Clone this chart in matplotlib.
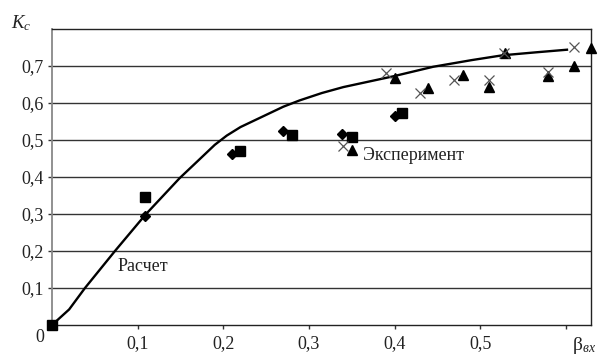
import matplotlib
matplotlib.use("Agg")
import matplotlib.pyplot as plt

plt.rcParams["font.family"] = ["Liberation Serif", "DejaVu Serif"]
plt.rcParams["mathtext.fontset"] = "custom"
plt.rcParams["mathtext.rm"] = "Liberation Serif"
plt.rcParams["mathtext.it"] = "Liberation Serif:italic"

# calculated curve (Расчет)
calc_x = [0.0, 0.02, 0.0385, 0.0735, 0.109, 0.149, 0.17, 0.19, 0.204, 0.22, 0.25, 0.27, 0.289,
          0.315, 0.34, 0.37, 0.398, 0.445, 0.49, 0.526, 0.565, 0.601]
calc_y = [0.0, 0.042, 0.10, 0.20, 0.298, 0.397, 0.443, 0.487, 0.512, 0.535, 0.568, 0.59, 0.607,
          0.627, 0.643, 0.658, 0.672, 0.698, 0.716, 0.729, 0.737, 0.744]

# experiment series
sq_x = [0.0, 0.109, 0.219, 0.28, 0.35, 0.409]
sq_y = [0.0, 0.347, 0.471, 0.514, 0.509, 0.572]

dia_x = [0.109, 0.21, 0.27, 0.338, 0.40]
dia_y = [0.295, 0.462, 0.524, 0.516, 0.565]

tri_x = [0.35, 0.40, 0.439, 0.48, 0.51, 0.529, 0.579, 0.609, 0.629]
tri_y = [0.473, 0.667, 0.64, 0.676, 0.642, 0.736, 0.673, 0.70, 0.748]

cr_x = [0.34, 0.39, 0.429, 0.469, 0.51, 0.527, 0.579, 0.609]
cr_y = [0.484, 0.68, 0.626, 0.662, 0.662, 0.734, 0.685, 0.752]

xticks = [0.1, 0.2, 0.3, 0.4, 0.5, 0.6]
xlabels = ["0,1", "0,2", "0,3", "0,4", "0,5", ""]
yticks = [0.1, 0.2, 0.3, 0.4, 0.5, 0.6, 0.7]
ylabels = ["0,1", "0,2", "0,3", "0,4", "0,5", "0,6", "0,7"]

fig = plt.figure(figsize=(5.99, 3.58), dpi=100)
ax = fig.add_axes([0.0868, 0.0922, 0.8998, 0.8268])
ax.set_xlim(0, 0.629)
ax.set_ylim(0, 0.8)

for y in yticks:
    ax.axhline(y, color="#333333", lw=1.0, zorder=1)

ax.plot(calc_x, calc_y, color="black", lw=1.7, zorder=3)
ax.plot(sq_x, sq_y, "s", color="black", ms=6.5, ls="none", zorder=4, clip_on=False)
ax.plot(dia_x, dia_y, "D", color="black", ms=5, ls="none", zorder=4, clip_on=False)
ax.plot(tri_x, tri_y, "^", color="black", ms=7.5, ls="none", zorder=4, clip_on=False)
ax.plot(cr_x, cr_y, "x", color="#555555", ms=7, mew=0.9, ls="none", zorder=5, clip_on=False)

ax.set_xticks(xticks)
ax.set_xticklabels(xlabels)
ax.set_yticks(yticks)
ax.set_yticklabels(ylabels)
ax.tick_params(axis="both", direction="out", length=3, width=1, color="#333333",
               labelsize=13, labelcolor="#222222")
ax.tick_params(axis="x", pad=4)
ax.tick_params(axis="y", pad=3)

for s in ["top", "right", "bottom"]:
    ax.spines[s].set_color("#222222")
    ax.spines[s].set_linewidth(1.0)
ax.spines["left"].set_color("#888888")
ax.spines["left"].set_linewidth(1.3)

ax.text(0.077, 0.157, "Расчет", fontsize=13, color="#222222", va="center", ha="left")
ax.text(0.363, 0.459, "Эксперимент", fontsize=13, color="#222222", va="center", ha="left")

fig.text(40 / 599, 1 - 338 / 358, "0", fontsize=13, color="#222222", ha="center", va="center")
fig.text(21 / 599, 1 - 23 / 358, r"$K_c$", fontsize=13.5, color="#222222", ha="center", va="center")
fig.text(584 / 599, 1 - 345 / 358, r"$\mathrm{β}_{\mathit{вх}}$", fontsize=14, color="#222222",
         ha="center", va="center")

fig.savefig("out.png", dpi=100)
